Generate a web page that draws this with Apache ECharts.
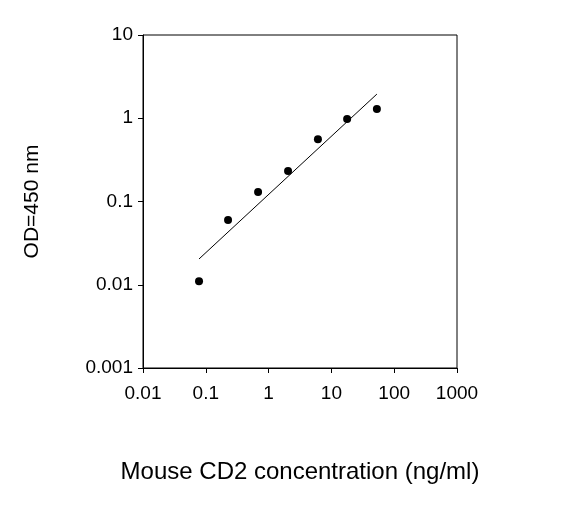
<!DOCTYPE html>
<html>
<head>
<meta charset="utf-8">
<script src="https://cdn.jsdelivr.net/npm/echarts@6/dist/echarts.min.js"></script>
<style>html,body{margin:0;padding:0;background:#fff;}#chart{width:566px;height:505px;}</style>
</head>
<body>
<div id="chart"></div>
<script>
// measured points (concentration, OD)
var concs = [0.078, 0.226, 0.68, 2.04, 6.1, 17.8, 53];
var ods = [0.011, 0.06, 0.13, 0.232, 0.56, 0.98, 1.29];
// fitted line end points
var fitX = [0.078, 53];
var fitY = [0.0204, 1.95];
var xTicks = ['0.01', '0.1', '1', '10', '100', '1000'];
var yTicks = ['0.001', '0.01', '0.1', '1', '10'];

function fmt(list) {
  return function (v) {
    var e = Math.round(Math.log10(v));
    for (var i = 0; i < list.length; i++) {
      if (Math.round(Math.log10(parseFloat(list[i]))) === e) return list[i];
    }
    return '';
  };
}

var chart = echarts.init(document.getElementById('chart'));
var font = 'Liberation Sans, Arial, sans-serif';
chart.setOption({
  animation: false,
  grid: { left: 143, right: 109, top: 35, bottom: 137, show: true, borderColor: '#000', borderWidth: 1 },
  xAxis: {
    type: 'log', logBase: 10, min: 0.01, max: 1000,
    name: 'Mouse CD2 concentration (ng/ml)', nameLocation: 'middle', nameGap: 92,
    nameTextStyle: { color: '#000', fontSize: 24, fontFamily: font },
    axisLine: { lineStyle: { color: '#000' } },
    axisTick: { length: 5, lineStyle: { color: '#000' } },
    minorTick: { show: false },
    splitLine: { show: false },
    axisLabel: { color: '#000', fontSize: 19, fontFamily: font, margin: 16, formatter: fmt(xTicks) }
  },
  yAxis: {
    type: 'log', logBase: 10, min: 0.001, max: 10,
    name: 'OD=450 nm', nameLocation: 'middle', nameGap: 100,
    nameTextStyle: { color: '#000', fontSize: 21, fontFamily: font },
    axisLine: { lineStyle: { color: '#000' } },
    axisTick: { length: 5, lineStyle: { color: '#000' } },
    splitLine: { show: false },
    axisLabel: { color: '#000', fontSize: 19, fontFamily: font, margin: 10, formatter: fmt(yTicks) }
  },
  series: [
    {
      type: 'line', data: fitX.map(function (x, i) { return [x, fitY[i]]; }),
      symbol: 'none', lineStyle: { color: '#000', width: 1 }
    },
    {
      type: 'scatter', data: concs.map(function (x, i) { return [x, ods[i]]; }),
      symbol: 'circle', symbolSize: 8, itemStyle: { color: '#000', opacity: 1 }
    }
  ]
});
</script>
</body>
</html>
